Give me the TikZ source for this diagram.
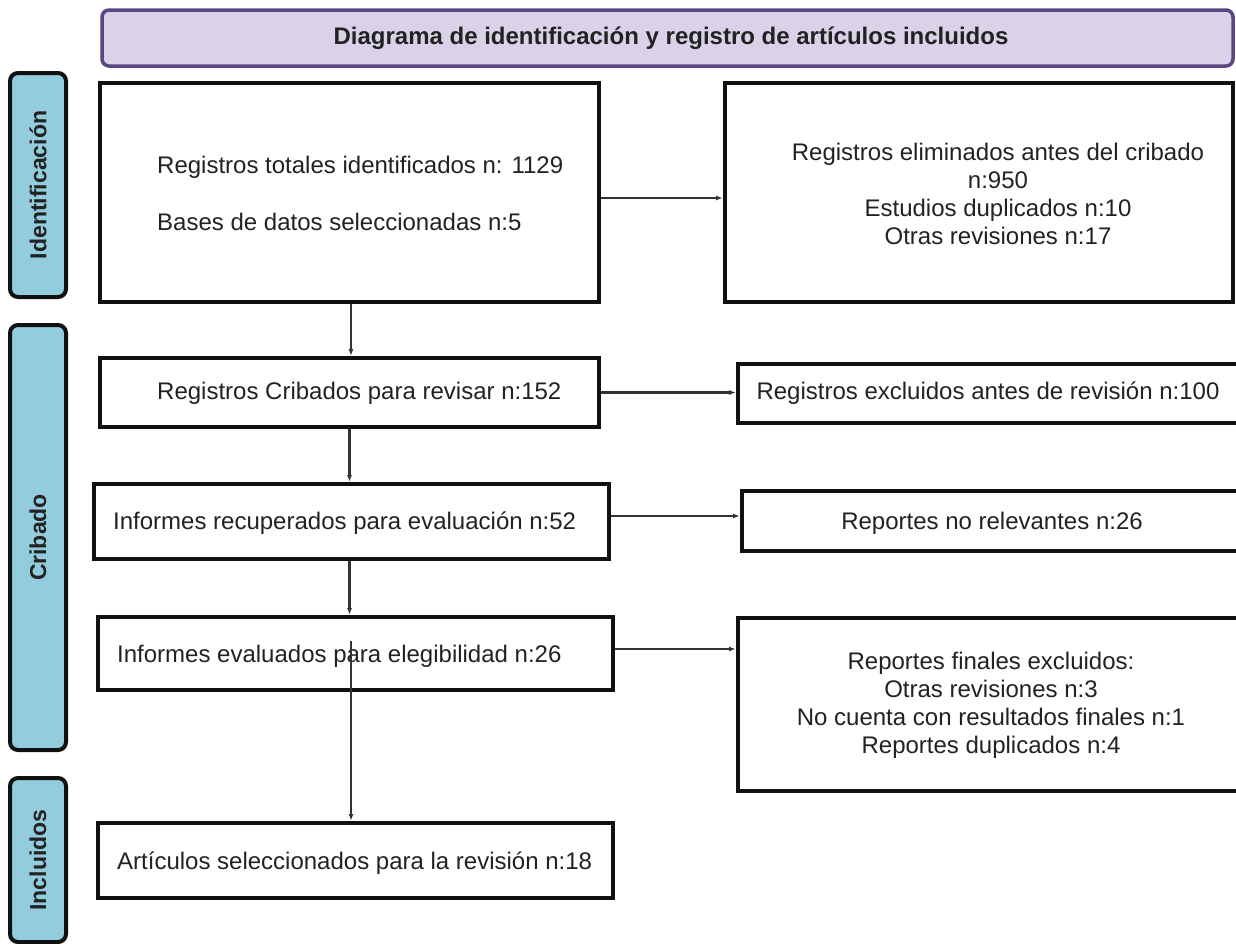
\documentclass[tikz,border=0pt]{standalone}
\usepackage{fontspec}
\setmainfont{Liberation Sans}
\usetikzlibrary{arrows.meta}
\definecolor{hdrfill}{HTML}{D9D2E9}
\definecolor{hdrdraw}{HTML}{5A4680}
\definecolor{barfill}{HTML}{93CDDD}
\definecolor{boxdraw}{HTML}{111111}
\definecolor{txtcol}{HTML}{222222}
\definecolor{arrcol}{HTML}{333333}
\tikzset{
  box/.style={draw=boxdraw, line width=4pt, fill=white, inner sep=0pt},
  bar/.style={draw=boxdraw, line width=4pt, fill=barfill, rounded corners=8pt, inner sep=0pt},
  hdr/.style={draw=hdrdraw, line width=3.5pt, fill=hdrfill, rounded corners=7pt, inner sep=0pt},
  txt/.style={text=txtcol, inner sep=0pt, font=\fontsize{24}{28}\selectfont},
  ctxt/.style={txt, align=center},
  bartxt/.style={text=txtcol, inner sep=0pt, rotate=90, font=\fontsize{23}{27}\selectfont\bfseries},
  arr/.style={draw=arrcol, line width=2.1pt, -{Latex[length=7pt,width=5pt]}},
}
\begin{document}
\begin{tikzpicture}[x=1pt,y=-1pt]
\path[use as bounding box, clip] (0,0) rectangle (1236,943);
% header
\node[hdr, minimum width=1131, minimum height=56] (hdr) at (667.5,38) {};
\node[txt, font=\fontsize{24}{28}\selectfont\bfseries] (hdrt) at (671,38) {Diagrama de identificación y registro de artículos incluidos};
% side bars
\node[bar, minimum width=56, minimum height=224] (s1) at (38,185) {};
\node[bartxt] (s1t) at (s1.center) {Identificación};
\node[bar, minimum width=56, minimum height=425] (s2) at (38,537.5) {};
\node[bartxt] (s2t) at (s2.center) {Cribado};
\node[bar, minimum width=56, minimum height=164] (s3) at (38,860) {};
\node[bartxt] (s3t) at (s3.center) {Incluidos};
% left boxes
\node[box, minimum width=499, minimum height=219] (b1) at (349.5,192.5) {};
\node[txt, anchor=west] (b1a) at (157,167) {Registros totales identificados n: 1129};
\node[txt, anchor=west] (b1b) at (157,222) {Bases de datos seleccionadas n:5};
\node[box, minimum width=499, minimum height=69] (b3) at (349.5,392.5) {};
\node[txt, anchor=west] (b3t) at (157,393) {Registros Cribados para revisar n:152};
\node[box, minimum width=515, minimum height=75] (b4) at (351.5,521.5) {};
\node[txt, anchor=west] (b4t) at (113,523) {Informes recuperados para evaluación n:52};
\node[box, minimum width=515, minimum height=73] (b5) at (355.5,653.5) {};
\node[txt, anchor=west] (b5t) at (117,656) {Informes evaluados para elegibilidad n:26};
\node[box, minimum width=515, minimum height=75] (b6) at (355.5,860.5) {};
\node[txt, anchor=west] (b6t) at (117,863) {Artículos seleccionados para la revisión n:18};
% right boxes
\node[box, minimum width=508, minimum height=219] (b2) at (979,192.5) {};
\node[ctxt] (b2t) at (998,193.5) {Registros eliminados antes del cribado\\n:950\\Estudios duplicados n:10\\Otras revisiones n:17};
\node[box, minimum width=510, minimum height=59] (b7) at (993,393.5) {};
\node[txt] (b7t) at (988,393) {Registros excluidos antes de revisión n:100};
\node[box, minimum width=506, minimum height=60] (b8) at (995,521) {};
\node[txt] (b8t) at (992,523) {Reportes no relevantes n:26};
\node[box, minimum width=510, minimum height=173] (b9) at (993,704.5) {};
\node[ctxt] (b9t) at (991,705) {Reportes finales excluidos:\\Otras revisiones n:3\\No cuenta con resultados finales n:1\\Reportes duplicados n:4};
% vertical arrows
\draw[arr] ([xshift=1.5pt]b1.south) -- ([xshift=1.5pt]b1.south |- b3.north);
\draw[arr] (b3.south) -- (b3.south |- b4.north);
\draw[arr] ([xshift=-2pt]b4.south) -- ([xshift=-2pt]b4.south |- b5.north);
\draw[arr] ([xshift=-4.5pt,yshift=13pt]b5.center) -- ([xshift=-4.5pt]b5.center |- b6.north);
% horizontal arrows
\draw[arr] ([yshift=-5.5pt]b1.east) -- ([yshift=-5.5pt]b1.east -| b2.west);
\draw[arr] (b3.east) -- (b3.east -| b7.west);
\draw[arr] ([yshift=5.5pt]b4.east) -- ([yshift=5.5pt]b4.east -| b8.west);
\draw[arr] ([yshift=4.5pt]b5.east) -- ([yshift=4.5pt]b5.east -| b9.west);
\end{tikzpicture}
\end{document}
